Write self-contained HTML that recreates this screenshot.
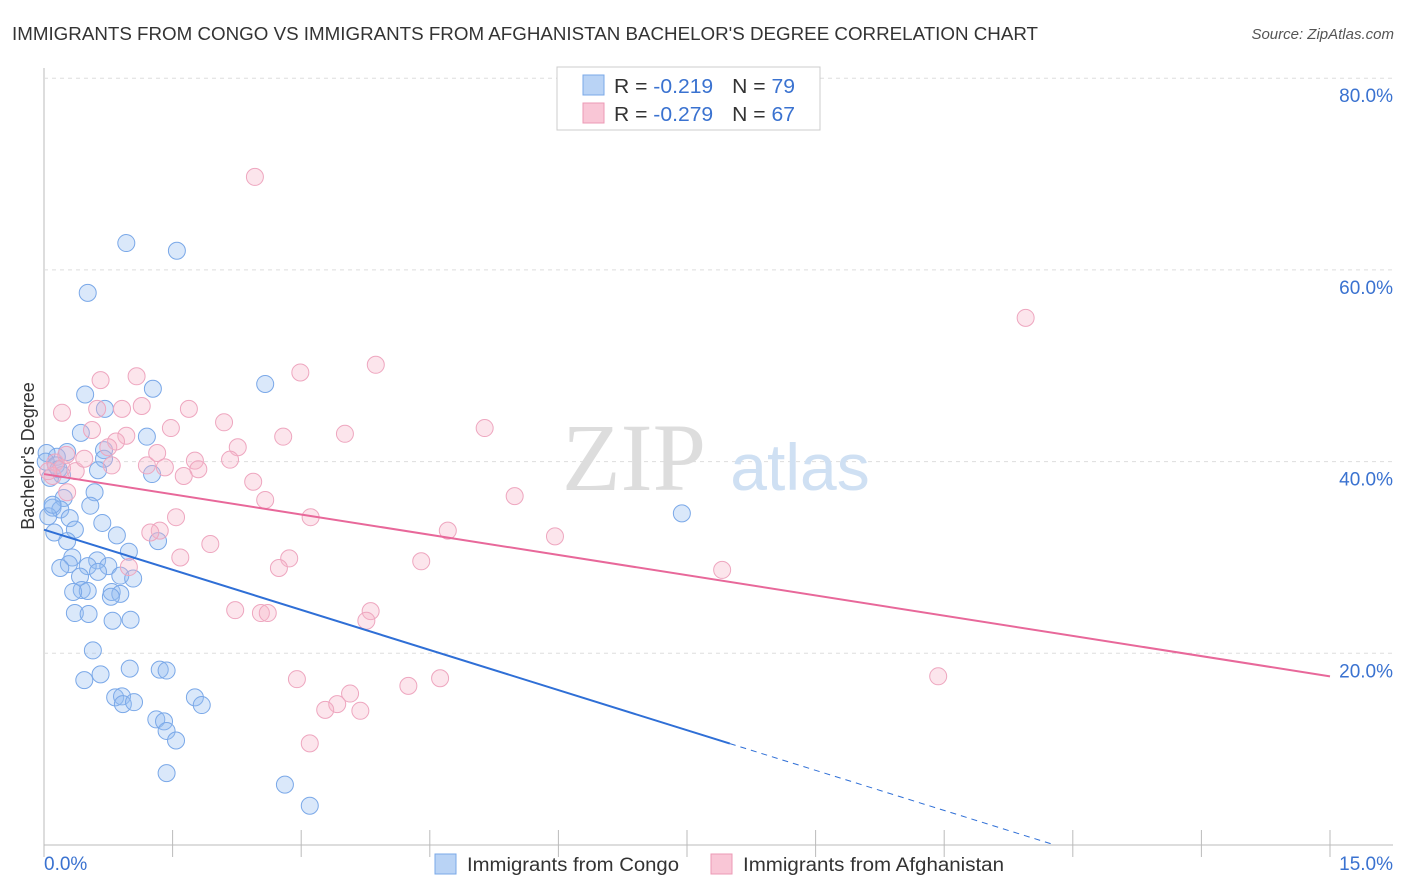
<!DOCTYPE html>
<html><head><meta charset="utf-8"><style>
body{margin:0;background:#fff;font-family:"Liberation Sans",sans-serif;}
svg{display:block}
</style></head><body>
<svg id="c" width="1406" height="892">
<text x="12" y="40" font-size="18" fill="#333" textLength="1026" lengthAdjust="spacingAndGlyphs">IMMIGRANTS FROM CONGO VS IMMIGRANTS FROM AFGHANISTAN BACHELOR'S DEGREE CORRELATION CHART</text>
<text x="1394" y="39" font-size="15" fill="#555" font-style="italic" text-anchor="end">Source: ZipAtlas.com</text>
<g id="grid"></g>
<text x="634" y="490" font-size="96" fill="#ddd" font-family="Liberation Serif,serif" text-anchor="middle">ZIP</text>
<text x="800" y="490" font-size="66" fill="#cfe0f3" text-anchor="middle">atlas</text>
<g id="pts"></g>
<g id="lines"></g>
<text x="34" y="456" font-size="18" fill="#333" transform="rotate(-90 34 456)" text-anchor="middle">Bachelor's Degree</text>
<g>
<rect x="557" y="67" width="263" height="63" fill="#fff" stroke="#ccc"/>
<rect x="583" y="75" width="21" height="20" fill="#b9d3f5" stroke="#7aa8e8"/>
<rect x="583" y="103" width="21" height="20" fill="#f9c6d6" stroke="#ec9ab5"/>
<text x="614" y="93" font-size="20" fill="#333" textLength="181" lengthAdjust="spacingAndGlyphs">R = <tspan fill="#3a72d0"> -0.219</tspan><tspan dx="18">N = </tspan><tspan fill="#3a72d0">79</tspan></text>
<text x="614" y="121" font-size="20" fill="#333" textLength="181" lengthAdjust="spacingAndGlyphs">R = <tspan fill="#3a72d0">-0.279</tspan><tspan dx="18">N = </tspan><tspan fill="#3a72d0">67</tspan></text>
</g>
<g>
<rect x="435" y="854" width="21" height="20" fill="#b9d3f5" stroke="#7aa8e8"/>
<text x="467" y="871" font-size="19" fill="#333" textLength="212" lengthAdjust="spacingAndGlyphs">Immigrants from Congo</text>
<rect x="711" y="854" width="21" height="20" fill="#f9c6d6" stroke="#ec9ab5"/>
<text x="743" y="871" font-size="19" fill="#333" textLength="261" lengthAdjust="spacingAndGlyphs">Immigrants from Afghanistan</text>
</g>
</svg>
<script>
const yTicks=[20,40,60,80];
const xTickLabels=["0.0%","15.0%"];
const blueX=[0.96,1.55,0.51,1.27,2.58,0.48,0.71,1.20,0.43,0.27,0.15,0.03,0.70,0.70,0.63,1.26,0.21,0.07,0.59,0.23,0.54,0.10,0.19,0.05,0.30,0.68,0.36,0.12,0.85,1.33,0.27,0.99,0.33,0.62,0.29,0.19,0.51,0.75,0.63,0.42,0.89,1.04,0.44,0.51,0.34,0.79,0.89,0.78,0.36,0.52,1.01,0.80,0.57,1.00,1.35,1.43,0.66,0.47,0.83,0.91,1.76,0.92,1.05,1.84,1.31,1.40,1.43,1.54,1.43,2.81,3.10,7.44,0.02,0.14,0.10,0.17];
const blueY=[62.8,62.0,57.6,47.6,48.1,47.0,45.5,42.6,43.0,41.0,40.5,40.9,41.2,40.3,39.1,38.7,38.6,38.3,36.8,36.2,35.4,35.2,35.0,34.3,34.1,33.6,32.9,32.6,32.3,31.7,31.7,30.6,30.0,29.7,29.3,28.9,29.1,29.1,28.5,28.0,28.1,27.8,26.6,26.5,26.4,26.4,26.2,25.9,24.2,24.1,23.5,23.4,20.3,18.4,18.3,18.2,17.8,17.2,15.4,15.5,15.4,14.7,14.9,14.6,13.1,12.9,11.9,10.9,7.5,6.3,4.1,34.6,40.0,39.6,35.5,39.2];
const pinkX=[2.46,11.45,3.87,2.99,1.08,0.66,1.14,1.69,0.91,0.62,0.21,2.10,1.48,5.14,0.56,0.96,2.79,3.51,0.84,2.26,1.32,0.75,2.17,1.76,1.20,1.41,0.79,1.80,0.37,1.63,2.44,0.27,5.49,2.58,3.11,1.54,1.35,4.71,5.96,1.24,1.94,1.59,2.86,4.40,2.74,7.91,0.99,2.23,3.81,2.53,2.61,3.76,10.43,2.95,4.62,4.25,3.57,3.42,3.28,3.69,3.10,0.13,0.21,0.10,0.05,0.47,0.26];
const pinkY=[69.7,55.0,50.1,49.3,48.9,48.5,45.8,45.5,45.5,45.5,45.1,44.1,43.5,43.5,43.3,42.7,42.6,42.9,42.1,41.5,40.9,41.5,40.2,40.1,39.6,39.4,39.6,39.2,39.0,38.5,37.9,36.8,36.4,36.0,34.2,34.2,32.8,32.8,32.2,32.6,31.4,30.0,29.9,29.6,28.9,28.7,29.0,24.5,24.4,24.2,24.2,23.4,17.6,17.3,17.4,16.6,15.8,14.7,14.1,14.0,10.6,39.9,39.3,38.5,39.0,40.3,40.7];
const blueTrend=[32.9,-2.79];
const pinkTrend=[38.7,-1.407];
const NS='http://www.w3.org/2000/svg';
const X=v=>44+v/15*1286;
const Y=v=>845-v/20*191.7;
function mk(t,a,p){const e=document.createElementNS(NS,t);for(const k in a)e.setAttribute(k,a[k]);p.appendChild(e);return e;}
const grid=document.getElementById('grid');
mk('line',{x1:44,y1:68,x2:44,y2:845,stroke:'#bbb'},grid);
mk('line',{x1:44,y1:845,x2:1393,y2:845,stroke:'#bbb'},grid);
for(let i=0;i<=10;i++){mk('line',{x1:X(i*1.5),y1:830,x2:X(i*1.5),y2:857,stroke:'#bbb'},grid);}
for(const t of yTicks){
 const g=mk('line',{x1:44,y1:Y(t),x2:1393,y2:Y(t),stroke:'#ddd','stroke-dasharray':'4,4'},grid);
 
 
 const tx=mk('text',{x:1393,y:Y(t)+24,'font-size':19,fill:'#3a72d0','text-anchor':'end'},grid);
 tx.textContent=t.toFixed(1)+'%';
 
 
}
const xl0=mk('text',{x:44,y:870,'font-size':19,fill:'#3a72d0'},grid);xl0.textContent=xTickLabels[0];


const xl1=mk('text',{x:1393,y:870,'font-size':19,fill:'#3a72d0','text-anchor':'end'},grid);xl1.textContent=xTickLabels[1];


const pts=document.getElementById('pts');
blueX.forEach((x,i)=>{const c=mk('circle',{cx:X(x),cy:Y(blueY[i]),r:8.5,fill:'rgba(150,190,240,0.35)',stroke:'#7aa8e8','stroke-width':1},pts);
 
 });
pinkX.forEach((x,i)=>{const c=mk('circle',{cx:X(x),cy:Y(pinkY[i]),r:8.5,fill:'rgba(246,180,200,0.35)',stroke:'#eea6bf','stroke-width':1},pts);
 
 });
const ln=document.getElementById('lines');
const bf=x=>blueTrend[0]+blueTrend[1]*x;
const bz=-blueTrend[0]/blueTrend[1];
const b1=mk('line',{x1:X(0),y1:Y(bf(0)),x2:X(8),y2:Y(bf(8)),stroke:'#2f6fd6','stroke-width':2},ln);


const b2=mk('line',{x1:X(8),y1:Y(bf(8)),x2:X(bz),y2:Y(0),stroke:'#2f6fd6','stroke-width':1,'stroke-dasharray':'6,5'},ln);


const pf=x=>pinkTrend[0]+pinkTrend[1]*x;
const p1=mk('line',{x1:X(0),y1:Y(pf(0)),x2:X(15),y2:Y(pf(15)),stroke:'#e8689a','stroke-width':2},ln);


</script>
</body></html>
